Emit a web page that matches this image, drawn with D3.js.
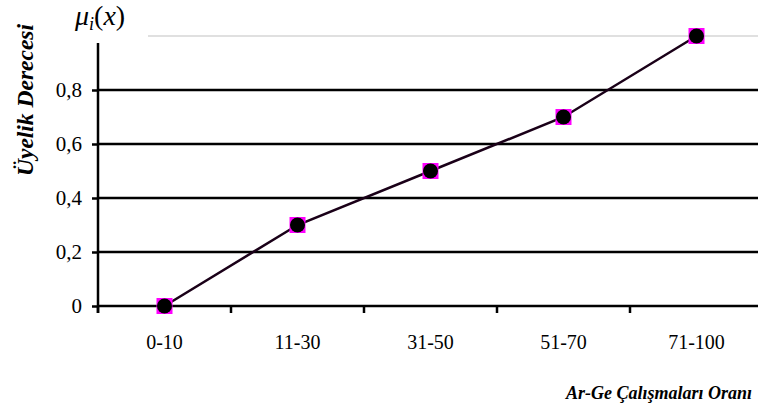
<!DOCTYPE html>
<html>
<head>
<meta charset="utf-8">
<script src="https://cdn.jsdelivr.net/npm/d3@7"></script>
<style>
  html, body { margin: 0; padding: 0; background: #fff; }
  svg { display: block; }
  text { font-family: "Liberation Serif", "Times New Roman", serif; }
</style>
</head>
<body>
<svg id="chart" width="758" height="414"></svg>
<script>
// Üyelik fonksiyonu: Ar-Ge çalışmaları oranı
const categories = ["0-10", "11-30", "31-50", "51-70", "71-100"];
const membership = [0, 0.3, 0.5, 0.7, 1.0];
const yTicks = [0, 0.2, 0.4, 0.6, 0.8];
const yTickLabels = ["0", "0,2", "0,4", "0,6", "0,8"];

const svg = d3.select("#chart");
const plotLeft = 98, plotTop = 36, plotBottom = 306;
const bandW = 133;
const serif = "'Liberation Serif', 'Times New Roman', serif";

const x = d3.scaleBand()
  .domain(categories)
  .range([plotLeft, plotLeft + bandW * categories.length])
  .padding(0);

const y = d3.scaleLinear().domain([0, 1]).range([plotBottom, plotTop]);

// top reference line (1.0), light gray
svg.append("line")
  .attr("x1", 148).attr("x2", 758)
  .attr("y1", y(1)).attr("y2", y(1))
  .attr("stroke", "#d6d6d6").attr("stroke-width", 1.5);

// horizontal gridlines
svg.append("g")
  .selectAll("line")
  .data(yTicks)
  .join("line")
  .attr("x1", plotLeft).attr("x2", 758)
  .attr("y1", d => y(d)).attr("y2", d => y(d))
  .attr("stroke", "#000").attr("stroke-width", 2.5);

// y axis
const yAxis = d3.axisLeft(y)
  .tickValues(yTicks)
  .tickFormat((d, i) => yTickLabels[i])
  .tickSize(6)
  .tickPadding(10);
const gy = svg.append("g").attr("transform", `translate(${plotLeft},0)`).call(yAxis);
gy.attr("font-family", serif).attr("font-size", 21);
gy.select(".domain").remove();
gy.selectAll(".tick line").attr("stroke", "#000").attr("stroke-width", 2.5);
gy.selectAll(".tick text").attr("fill", "#000");
svg.append("line")
  .attr("x1", plotLeft).attr("x2", plotLeft)
  .attr("y1", 43).attr("y2", plotBottom + 7)
  .attr("stroke", "#000").attr("stroke-width", 2.5);

// x axis: ticks at band boundaries, labels at band centres
const boundaries = categories.map(c => x(c)).concat([x(categories[categories.length - 1]) + x.bandwidth()]);
svg.append("g")
  .selectAll("line")
  .data(boundaries)
  .join("line")
  .attr("x1", d => d).attr("x2", d => d)
  .attr("y1", plotBottom).attr("y2", plotBottom + 7)
  .attr("stroke", "#000").attr("stroke-width", 2.5);

svg.append("g")
  .selectAll("text")
  .data(categories)
  .join("text")
  .attr("x", d => x(d) + x.bandwidth() / 2)
  .attr("y", 349)
  .attr("text-anchor", "middle")
  .attr("font-size", 20)
  .text(d => d);

// line series
const pts = categories.map((c, i) => [x(c) + x.bandwidth() / 2, y(membership[i])]);
svg.append("path")
  .attr("d", d3.line()(pts))
  .attr("fill", "none")
  .attr("stroke", "#1a0018")
  .attr("stroke-width", 2.5);

// markers: magenta square under black dot
const mk = svg.append("g").selectAll("g").data(pts).join("g");
mk.append("rect")
  .attr("x", d => d[0] - 8).attr("y", d => d[1] - 8)
  .attr("width", 16).attr("height", 16)
  .attr("fill", "#ff00ff");
mk.append("circle")
  .attr("cx", d => d[0]).attr("cy", d => d[1])
  .attr("r", 7.5)
  .attr("fill", "#000");

// titles
svg.append("text")
  .attr("transform", "translate(33,100) rotate(-90)")
  .attr("text-anchor", "middle")
  .attr("font-size", 23.5)
  .attr("font-weight", "bold")
  .attr("font-style", "italic")
  .text("Üyelik Derecesi");

const mu = svg.append("text")
  .attr("x", 75).attr("y", 25)
  .attr("font-size", 28)
  .attr("font-style", "italic");
mu.append("tspan").text("μ");
mu.append("tspan").attr("font-size", 18).attr("dy", 5).text("i");
mu.append("tspan").attr("dy", -5).attr("font-style", "normal").text("(");
mu.append("tspan").text("x");
mu.append("tspan").attr("font-style", "normal").text(")");

svg.append("text")
  .attr("x", 752).attr("y", 399)
  .attr("text-anchor", "end")
  .attr("font-size", 18)
  .attr("font-weight", "bold")
  .attr("font-style", "italic")
  .text("Ar-Ge Çalışmaları Oranı");
</script>
</body>
</html>
